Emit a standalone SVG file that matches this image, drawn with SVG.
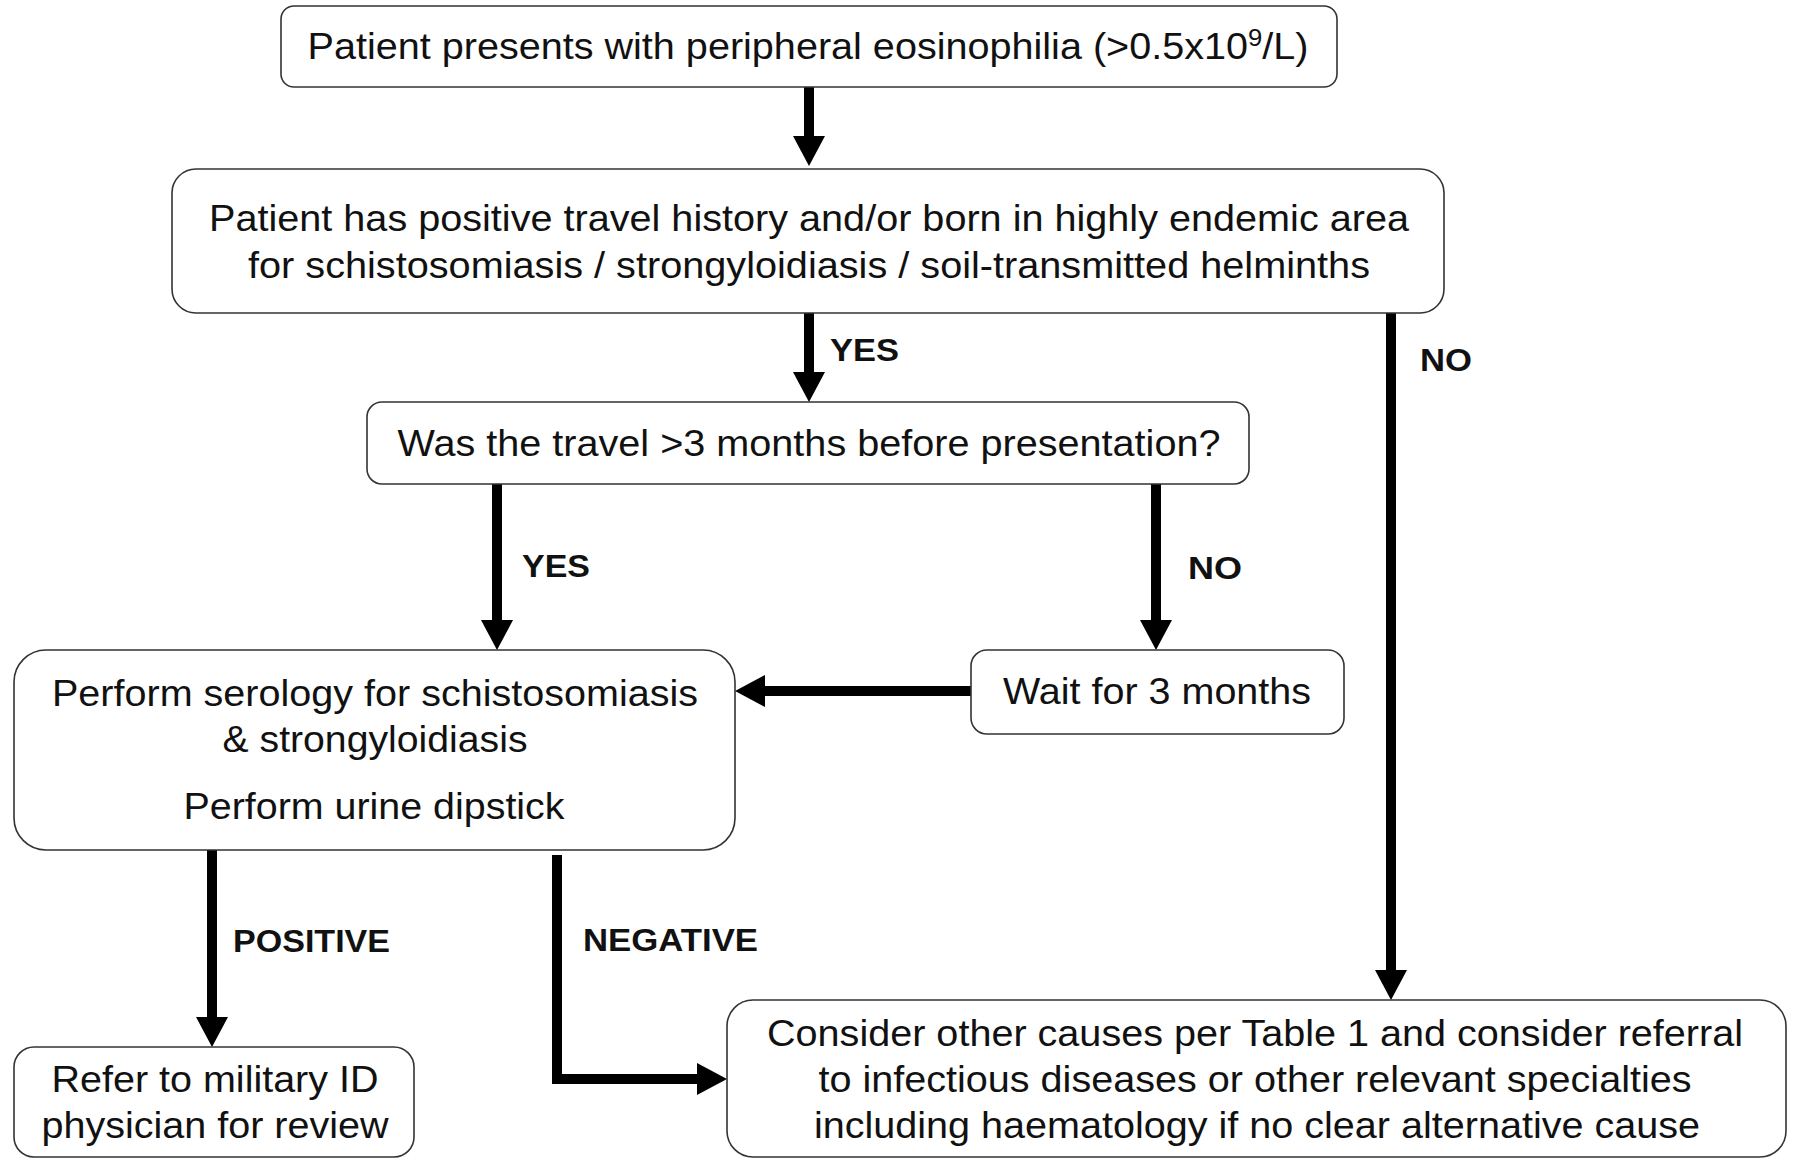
<svg xmlns="http://www.w3.org/2000/svg" width="1800" height="1160" viewBox="0 0 1800 1160">
<style>
.box{fill:#fff;stroke:#333;stroke-width:1.6}
.t{font-family:"Liberation Sans",Arial,sans-serif;font-size:37px;fill:#111;text-anchor:middle}
.lb{font-family:"Liberation Sans",Arial,sans-serif;font-size:32px;font-weight:bold;fill:#111}
.c{fill:none;stroke:#000;stroke-width:10}
</style>
<defs>
<marker id="ah" markerUnits="userSpaceOnUse" markerWidth="30" markerHeight="32" refX="0" refY="16" orient="auto" viewBox="0 0 30 32">
<path d="M0,0 L30,16 L0,32 z" fill="#000"/>
</marker>
</defs>
<rect width="1800" height="1160" fill="#fff"/>
<g id="connectors">
<line class="c" x1="809" y1="87" x2="809" y2="136" marker-end="url(#ah)"/>
<line class="c" x1="809" y1="313" x2="809" y2="372" marker-end="url(#ah)"/>
<line class="c" x1="1391" y1="313" x2="1391" y2="970" marker-end="url(#ah)"/>
<line class="c" x1="497" y1="484" x2="497" y2="620" marker-end="url(#ah)"/>
<line class="c" x1="1156" y1="484" x2="1156" y2="620" marker-end="url(#ah)"/>
<line class="c" x1="971" y1="691" x2="765" y2="691" marker-end="url(#ah)"/>
<line class="c" x1="212" y1="850" x2="212" y2="1017" marker-end="url(#ah)"/>
<polyline class="c" points="557,855 557,1079 697,1079" marker-end="url(#ah)"/>
<text class="lb" x="830" y="361" textLength="69" lengthAdjust="spacingAndGlyphs">YES</text>
<text class="lb" x="1420" y="371" textLength="52" lengthAdjust="spacingAndGlyphs">NO</text>
<text class="lb" x="522" y="577" textLength="68" lengthAdjust="spacingAndGlyphs">YES</text>
<text class="lb" x="1188" y="579" textLength="54" lengthAdjust="spacingAndGlyphs">NO</text>
<text class="lb" x="233" y="952" textLength="157" lengthAdjust="spacingAndGlyphs">POSITIVE</text>
<text class="lb" x="583" y="951" textLength="175" lengthAdjust="spacingAndGlyphs">NEGATIVE</text>
</g>
<g id="n1">
<rect class="box" x="281" y="6" width="1056" height="81" rx="13"/>
<text class="t" x="808" y="59" textLength="1001" lengthAdjust="spacingAndGlyphs">Patient presents with peripheral eosinophilia (&gt;0.5x10<tspan font-size="24" dy="-13">9</tspan><tspan dy="13">/L)</tspan></text>
</g>
<g id="n2">
<rect class="box" x="172" y="169" width="1272" height="144" rx="24"/>
<text class="t" x="809" y="231" textLength="1200" lengthAdjust="spacingAndGlyphs">Patient has positive travel history and/or born in highly endemic area</text>
<text class="t" x="809" y="278" textLength="1122" lengthAdjust="spacingAndGlyphs">for schistosomiasis / strongyloidiasis / soil-transmitted helminths</text>
</g>
<g id="n3">
<rect class="box" x="367" y="402" width="882" height="82" rx="15"/>
<text class="t" x="809" y="456" textLength="823" lengthAdjust="spacingAndGlyphs">Was the travel &gt;3 months before presentation?</text>
</g>
<g id="n4">
<rect class="box" x="971" y="650" width="373" height="84" rx="16"/>
<text class="t" x="1157" y="704" textLength="308" lengthAdjust="spacingAndGlyphs">Wait for 3 months</text>
</g>
<g id="n5">
<rect class="box" x="14" y="650" width="721" height="200" rx="32"/>
<text class="t" x="375" y="706" textLength="646" lengthAdjust="spacingAndGlyphs">Perform serology for schistosomiasis</text>
<text class="t" x="375" y="752" textLength="305" lengthAdjust="spacingAndGlyphs">&amp; strongyloidiasis</text>
<text class="t" x="374" y="819" textLength="381" lengthAdjust="spacingAndGlyphs">Perform urine dipstick</text>
</g>
<g id="n6">
<rect class="box" x="14" y="1047" width="400" height="110" rx="20"/>
<text class="t" x="215" y="1092" textLength="327" lengthAdjust="spacingAndGlyphs">Refer to military ID</text>
<text class="t" x="215" y="1138" textLength="347" lengthAdjust="spacingAndGlyphs">physician for review</text>
</g>
<g id="n7">
<rect class="box" x="727" y="1000" width="1059" height="157" rx="26"/>
<text class="t" x="1255" y="1046" textLength="976" lengthAdjust="spacingAndGlyphs">Consider other causes per Table 1 and consider referral</text>
<text class="t" x="1255" y="1092" textLength="873" lengthAdjust="spacingAndGlyphs">to infectious diseases or other relevant specialties</text>
<text class="t" x="1257" y="1138" textLength="886" lengthAdjust="spacingAndGlyphs">including haematology if no clear alternative cause</text>
</g>
</svg>
